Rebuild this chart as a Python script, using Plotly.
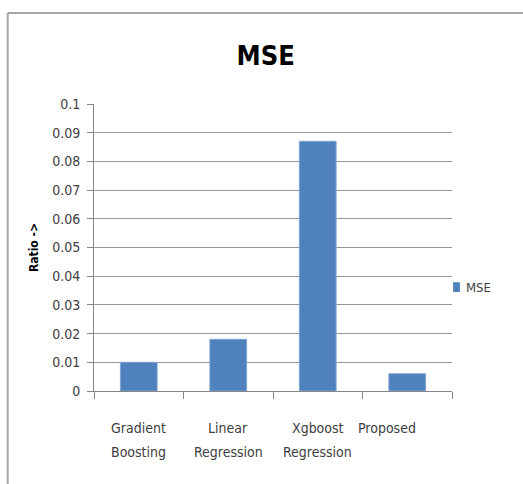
import plotly.graph_objects as go

# Mean squared error of each regression model
models = ["Gradient Boosting", "Linear Regression", "Xgboost Regression", "Proposed"]
label_lines = [["Gradient", "Boosting"], ["Linear", "Regression"], ["Xgboost", "Regression"], ["Proposed"]]
mse = [0.010, 0.018, 0.087, 0.006]
y_ticks = [0, 0.01, 0.02, 0.03, 0.04, 0.05, 0.06, 0.07, 0.08, 0.09, 0.1]
y_tick_text = ["0", "0.01", "0.02", "0.03", "0.04", "0.05", "0.06", "0.07", "0.08", "0.09", "0.1"]
series_name = "MSE"

FONT = "DejaVu Sans Condensed, Liberation Sans, sans-serif"
BAR = "#4F81BD"

fig = go.Figure()
fig.add_trace(go.Bar(
    x=models, y=mse, name=series_name, showlegend=False,
    marker=dict(color=BAR, line=dict(color="#7FA3D3", width=1)),
))

# multi-line category labels below the axis
annotations = []
label_shift = [0, 0, 0, -20]
for cat, lines, dx in zip(models, label_lines, label_shift):
    for i, line in enumerate(lines):
        annotations.append(dict(
            x=cat, xref="x", y=-0.128 - i * 0.084, yref="paper",
            text=line, showarrow=False, xshift=dx,
            xanchor="center", yanchor="middle",
            font=dict(family=FONT, size=14, color="#404040"),
        ))

# legend entry at the right of the plot
annotations.append(dict(
    x=1.033, xref="paper", y=0.362, yref="paper", text=series_name,
    showarrow=False, xanchor="left", yanchor="middle",
    font=dict(family=FONT, size=13, color="#404040"),
))

fig.update_layout(
    width=523, height=484,
    margin=dict(l=94, r=71, t=104, b=93),
    paper_bgcolor="white", plot_bgcolor="white",
    font=dict(family=FONT, color="#404040", size=14),
    title=dict(text="<b>MSE</b>", x=0.508, xanchor="center", y=0.885, yanchor="middle",
               font=dict(family=FONT, size=27, color="#000000")),
    bargap=0.59,
    showlegend=False,
    annotations=annotations,
    shapes=[
        # outer chart frame (top and left edges visible)
        dict(type="line", xref="paper", yref="paper", x0=-0.241, x1=1.2, y0=1.317, y1=1.317,
             line=dict(color="#a6a6a6", width=2)),
        dict(type="line", xref="paper", yref="paper", x0=-0.241, x1=-0.241, y0=1.317, y1=-0.4,
             line=dict(color="#a6a6a6", width=2)),
        # legend swatch
        dict(type="rect", xref="paper", yref="paper", x0=1.003, x1=1.022, y0=0.345, y1=0.379,
             fillcolor=BAR, line=dict(width=0)),
    ],
)

fig.update_xaxes(
    showline=True, linecolor="#868686", linewidth=1,
    ticks="outside", ticklen=7, tickcolor="#868686", tickson="boundaries",
    showticklabels=False, showgrid=False,
)
fig.update_yaxes(
    range=[0, 0.1], tickvals=y_ticks, ticktext=y_tick_text,
    showline=True, linecolor="#868686", linewidth=1,
    ticks="outside", ticklen=6, tickcolor="#868686", ticklabelstandoff=4,
    tickfont=dict(family=FONT, size=14, color="#404040"),
    showgrid=True, gridcolor="#979797", gridwidth=1,
    zeroline=False,
    title=dict(text="<b>Ratio -></b>", standoff=10,
               font=dict(family=FONT, size=12, color="#000000")),
)

fig.write_html("out.html")
